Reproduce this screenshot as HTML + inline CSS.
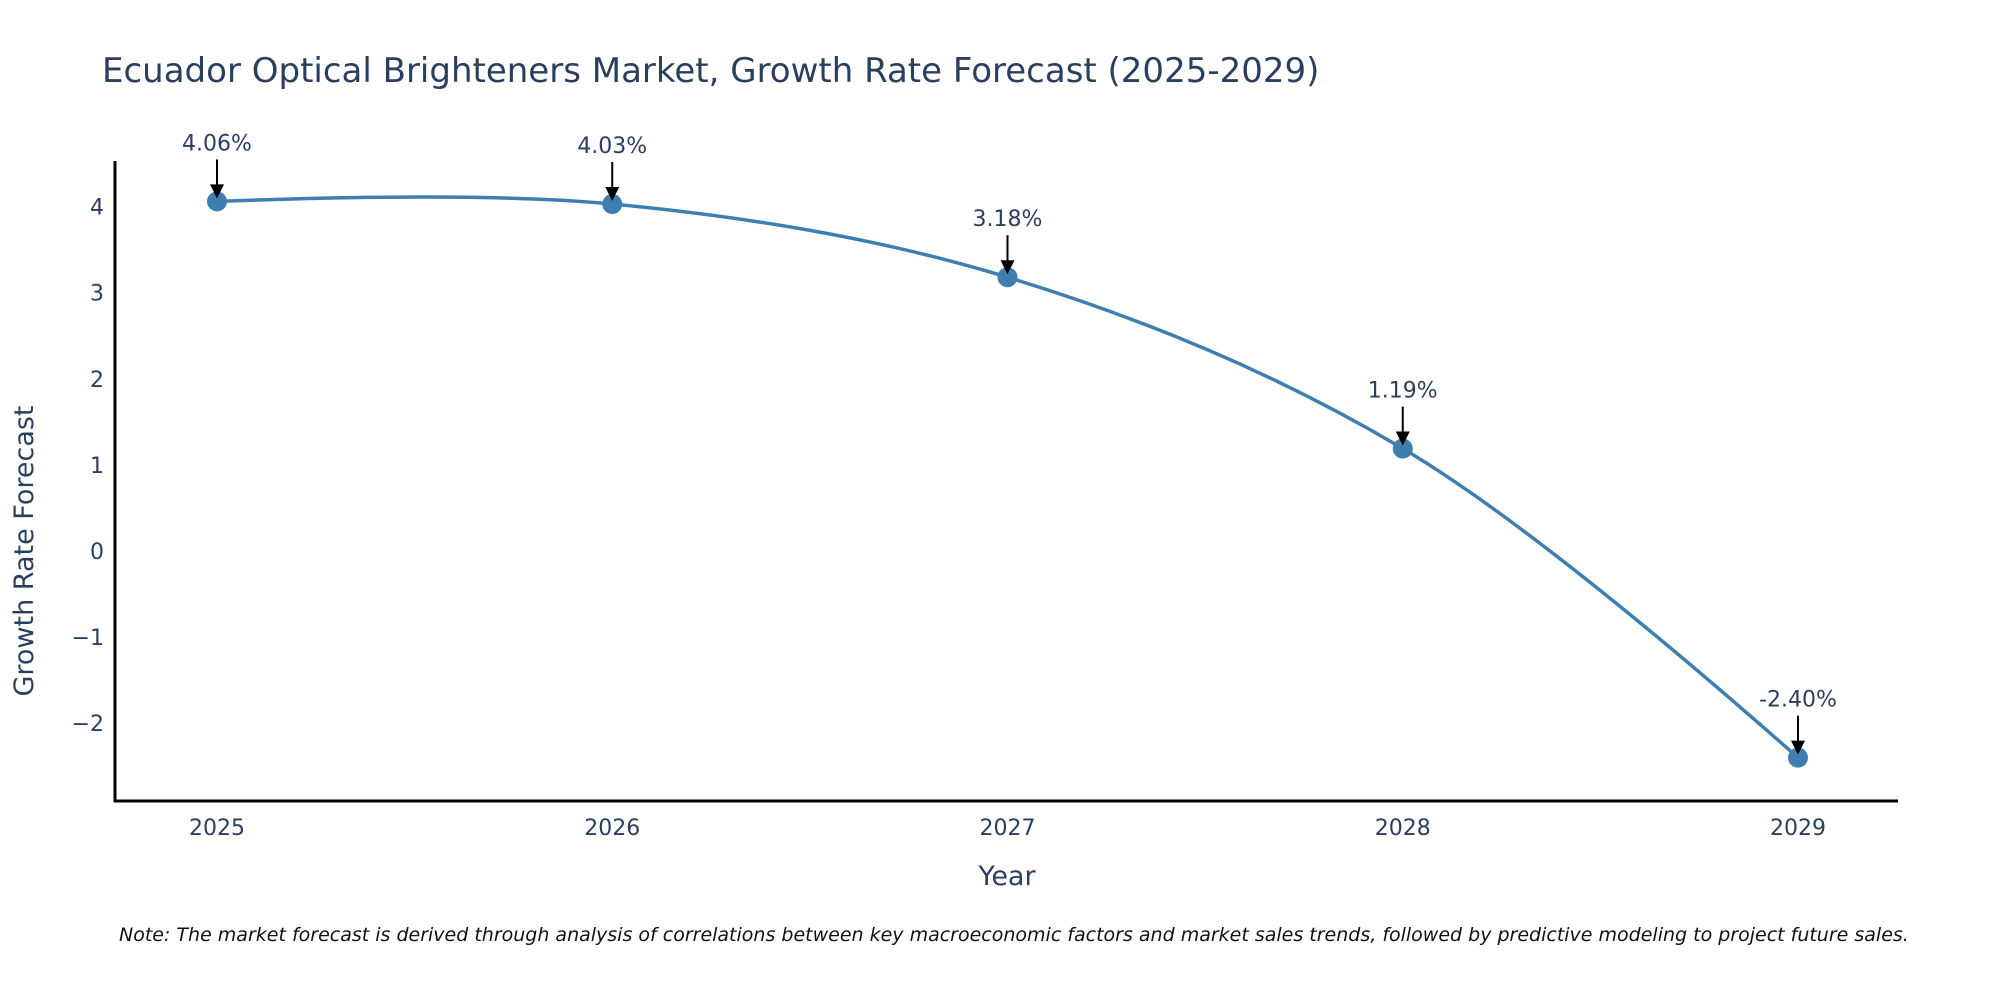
<!DOCTYPE html>
<html><head><meta charset="utf-8"><style>
body{margin:0;background:#fff;overflow:hidden;}
svg{display:block;font-family:"DejaVu Sans","Liberation Sans",sans-serif;}
</style></head><body>
<svg id="chart" width="2000" height="1000" viewBox="0 0 2000 1000">
<text x="102" y="82" font-size="34" fill="#2a3f5f">Ecuador Optical Brighteners Market, Growth Rate Forecast (2025-2029)</text>
<g id="yticks"></g>
<g id="xticks"></g>
<line x1="115" y1="161" x2="115" y2="802" stroke="#000" stroke-width="3"/>
<line x1="114" y1="801" x2="1898" y2="801" stroke="#000" stroke-width="3"/>
<path id="line" fill="none" stroke="#3f7fb0" stroke-width="3.5"/>
<g id="points"></g>
<text x="1007" y="885" font-size="27" fill="#2a3f5f" text-anchor="middle">Year</text>
<text transform="translate(33,551) rotate(-90)" font-size="27" fill="#2a3f5f" text-anchor="middle">Growth Rate Forecast</text>
<text x="119" y="941" font-size="19" font-style="italic" fill="#111">Note: The market forecast is derived through analysis of correlations between key macroeconomic factors and market sales trends, followed by predictive modeling to project future sales.</text>
</svg>
<script>
const years=["2025","2026","2027","2028","2029"];
const values=[4.06,4.03,3.18,1.19,-2.40];
const labels=["4.06%","4.03%","3.18%","1.19%","-2.40%"];
const yTicks=[-2,-1,0,1,2,3,4];
const NS="http://www.w3.org/2000/svg";
function xs(i){return 217+i*(1798-217)/(years.length-1);}
function ys(v){return 551-v*86.1;}
function mk(tag,attrs,parent){const e=document.createElementNS(NS,tag);for(const k in attrs)e.setAttribute(k,attrs[k]);parent.appendChild(e);return e;}
const yt=document.getElementById('yticks');
yTicks.forEach(t=>{const e=mk('text',{x:104,y:ys(t)+8,'font-size':22,fill:'#2a3f5f','text-anchor':'end'},yt);


e.textContent=t<0?'\u2212'+Math.abs(t):String(t);});
const xt=document.getElementById('xticks');
years.forEach((y,i)=>{const e=mk('text',{x:xs(i),y:835,'font-size':22,fill:'#2a3f5f','text-anchor':'middle'},xt);


e.textContent=y;});
const P=values.map((v,i)=>[xs(i),ys(v)]);
function tangent(a,b,c,s){
const d1x=a[0]-b[0],d1y=a[1]-b[1],d2x=c[0]-b[0],d2y=c[1]-b[1];
const d1a=Math.pow(d1x*d1x+d1y*d1y,0.25),d2a=Math.pow(d2x*d2x+d2y*d2y,0.25);
const nx=(d2a*d2a*d1x-d1a*d1a*d2x)*s,ny=(d2a*d2a*d1y-d1a*d1a*d2y)*s;
const den1=3*d2a*(d1a+d2a),den2=3*d1a*(d1a+d2a);
return [[b[0]+nx/den1,b[1]+ny/den1],[b[0]-nx/den2,b[1]-ny/den2]];}
const T=[];for(let i=1;i<P.length-1;i++)T.push(tangent(P[i-1],P[i],P[i+1],1));
let d='M'+P[0]+' Q'+T[0][0]+' '+P[1];
for(let i=1;i<P.length-2;i++)d+=' C'+T[i-1][1]+' '+T[i][0]+' '+P[i+1];
d+=' Q'+T[T.length-1][1]+' '+P[P.length-1];
document.getElementById('line').setAttribute('d',d);
const g=document.getElementById('points');
P.forEach((p,i)=>{
const c=mk('circle',{cx:p[0],cy:p[1],r:10,fill:'#3f7fb0'},g);


const l=mk('line',{x1:p[0],y1:p[1]-42,x2:p[0],y2:p[1]-14,stroke:'#000','stroke-width':2},g);


const a=mk('path',{d:'M'+(p[0]-7)+','+(p[1]-17)+' L'+(p[0]+7)+','+(p[1]-17)+' L'+p[0]+','+(p[1]-3)+' Z',fill:'#000'},g);


const t=mk('text',{x:p[0],y:p[1]-51,'font-size':22,fill:'#2a3f5f','text-anchor':'middle'},g);


t.textContent=labels[i];});
</script>
</body></html>
